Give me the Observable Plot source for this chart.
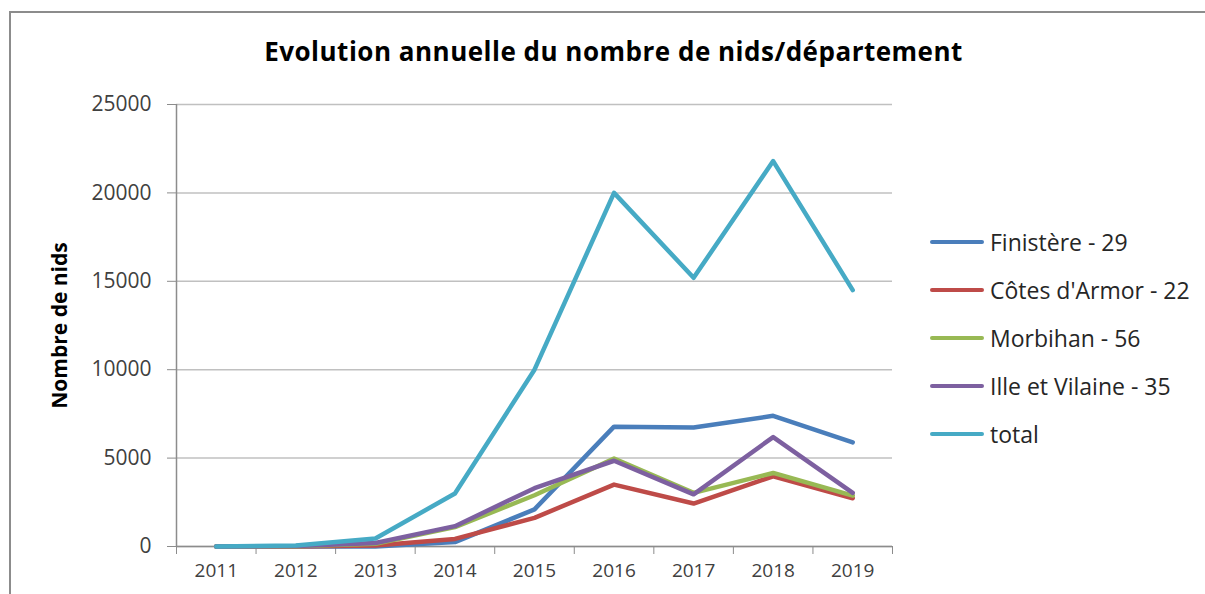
<!DOCTYPE html>
<html>
<head>
<meta charset="utf-8">
<script src="https://cdn.jsdelivr.net/npm/d3@7"></script>
<script src="https://cdn.jsdelivr.net/npm/@observablehq/plot@0.6"></script>
<style>
  html, body { margin: 0; padding: 0; background: #fff; }
  #wrap { position: relative; width: 1205px; height: 594px; overflow: hidden; font-family: "Open Sans", sans-serif; }
  #frame { position: absolute; left: 9px; top: 11px; width: 1210px; height: 600px; border-top: 2px solid #8c8c8c; border-left: 2px solid #8c8c8c; box-sizing: border-box; }
  #title { position: absolute; left: 0; width: 1227px; top: 34px; text-align: center; font-weight: bold; font-size: 26px; line-height: 34px; color: #000; letter-spacing: 0.5px; }
  #legend { position: absolute; left: 930px; top: 0; }
  .item { position: absolute; left: 0; white-space: nowrap; font-size: 23px; color: #262626; display: flex; align-items: center; }
  .sw { display: inline-block; width: 54px; height: 4px; border-radius: 2px; margin-right: 6px; }
  svg { position: absolute; left: 0; top: 0; }
</style>
</head>
<body>
<div id="wrap">
  <div id="frame"></div>
  <div id="chart"></div>
  <div id="title">Evolution annuelle du nombre de nids/département</div>
  <div id="legend"></div>
</div>
<script>
const years = [2011, 2012, 2013, 2014, 2015, 2016, 2017, 2018, 2019];
const seriesNames = ["Finistère - 29", "Côtes d'Armor - 22", "Morbihan - 56", "Ille et Vilaine - 35", "total"];
const seriesColors = ["#4a7ebb", "#be4b48", "#98b954", "#7d60a0", "#46aac5"];
const finistere = [0, 0, 0, 250, 2100, 6780, 6730, 7390, 5890];
const cotesArmor = [0, 0, 50, 430, 1620, 3500, 2430, 3970, 2730];
const morbihan = [0, 20, 150, 1100, 2900, 4970, 3030, 4160, 2880];
const illeVilaine = [0, 30, 200, 1150, 3300, 4850, 2950, 6190, 3030];
const total = [0, 60, 450, 3000, 10000, 20000, 15200, 21800, 14500];
const yTicks = [0, 5000, 10000, 15000, 20000, 25000];
const yLabel = "Nombre de nids";

const seriesValues = [finistere, cotesArmor, morbihan, illeVilaine, total];
const data = [];
seriesNames.forEach((name, i) => {
  years.forEach((yr, j) => data.push({series: name, year: yr, value: seriesValues[i][j]}));
});
const boundaries = years.map(y => y - 0.5).concat([years[years.length - 1] + 0.5]);

const chart = Plot.plot({
  width: 1205,
  height: 594,
  marginLeft: 176,
  marginRight: 313,
  marginTop: 104,
  marginBottom: 48,
  style: {fontFamily: "Open Sans, sans-serif", background: "transparent"},
  x: {type: "linear", domain: [years[0] - 0.5, years[years.length - 1] + 0.5]},
  y: {domain: [0, 25000]},
  color: {domain: seriesNames, range: seriesColors},
  marks: [
    Plot.ruleY(yTicks, {stroke: "#c0c0c0", strokeWidth: 1.5}),
    Plot.ruleX([years[0] - 0.5], {stroke: "#8c8c8c", strokeWidth: 1.5}),
    Plot.ruleY([0], {stroke: "#8c8c8c", strokeWidth: 1.5}),
    Plot.axisY({ticks: yTicks, tickSize: 9, tickPadding: 16, fontSize: 21, stroke: "#8c8c8c", fill: "#404040", label: null, tickFormat: d => String(d)}),
    Plot.axisX({ticks: boundaries, tickSize: 8, stroke: "#8c8c8c", tickFormat: () => "", label: null}),
    Plot.axisX({ticks: years, tickSize: 0, tickPadding: 17, fontSize: 19, fill: "#404040", label: null, tickFormat: d => String(d)}),
    Plot.text([yLabel], {frameAnchor: "left", textAnchor: "middle", dx: -116, rotate: -90, fontSize: 21, fontWeight: "bold", fill: "#000"}),
    Plot.line(data, {x: "year", y: "value", z: "series", stroke: "series", strokeWidth: 4.5, strokeLinejoin: "round", strokeLinecap: "round"})
  ]
});
document.getElementById("chart").appendChild(chart);

const legend = document.getElementById("legend");
const rowTops = [242, 290, 338, 386, 434];
seriesNames.forEach((name, i) => {
  const row = document.createElement("div");
  row.className = "item";
  row.style.top = (rowTops[i] - 15) + "px";
  row.style.height = "30px";
  const sw = document.createElement("span");
  sw.className = "sw";
  sw.style.background = seriesColors[i];
  const t = document.createElement("span");
  t.textContent = name;
  row.appendChild(sw);
  row.appendChild(t);
  legend.appendChild(row);
});
</script>
</body>
</html>
